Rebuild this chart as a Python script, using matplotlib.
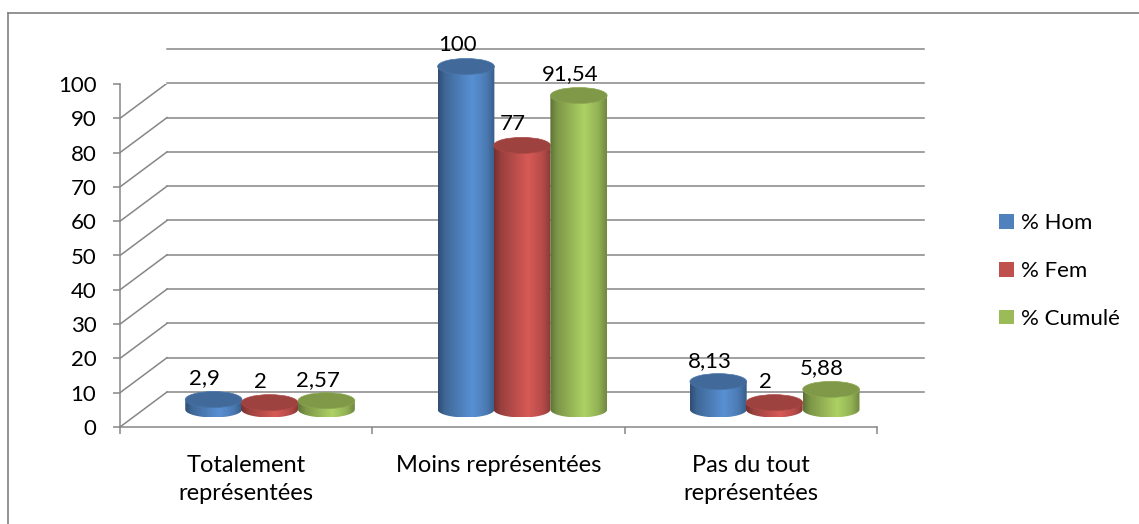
import numpy as np
import matplotlib
matplotlib.use("Agg")
import matplotlib.pyplot as plt
from matplotlib.patches import Ellipse, Patch, Polygon
from matplotlib.lines import Line2D
from matplotlib.transforms import offset_copy
from matplotlib.colors import to_rgb

plt.rcParams['font.family'] = ['Lato', 'DejaVu Sans']

categories = ["Totalement\nreprésentées", "Moins représentées", "Pas du tout\nreprésentées"]
series_names = ["% Hom", "% Fem", "% Cumulé"]
hom = [2.9, 100, 8.13]
fem = [2, 77, 2]
cumul = [2.57, 91.54, 5.88]
series = [hom, fem, cumul]
colors = ["#4F81BD", "#C0504D", "#9BBB59"]
yticks = list(range(0, 101, 10))

W, H = 1139, 524
fig = plt.figure(figsize=(W / 100, H / 100), dpi=100)
ax = fig.add_axes([120 / W, (H - 427) / H, 757 / W, 343 / H])
ax.patch.set_alpha(0)

# depth of the 3d box in pixels
DX, DY = 47, 35
back = offset_copy(ax.transData, fig=fig, x=DX, y=DY, units='dots')
mid_f = 0.5
mid = offset_copy(ax.transData, fig=fig, x=DX * mid_f, y=DY * mid_f, units='dots')

grid_c = "#868686"
lw = 1.1
fs = 16

# cylinders
px_per_unit = 343 / 100
eh = 8 / px_per_unit          # half height of the ellipse in data units
bw = 0.225
offs = [-0.222, 0, 0.225]
grad_u = np.linspace(0, 1, 200)
shade = np.interp(grad_u, [0, 0.12, 0.6, 0.85, 1], [0.6, 0.8, 1.12, 0.95, 0.72])

for i, (vals, col) in enumerate(zip(series, colors)):
    base = np.array(to_rgb(col))
    top_c = np.clip(base * 0.82, 0, 1)
    img = np.clip(shade[None, :, None] * base[None, None, :], 0, 1)
    for j, v in enumerate(vals):
        c = j + offs[i]
        t = np.linspace(0, np.pi, 60)
        bottom = np.column_stack([c - bw / 2 * np.cos(t), -eh * np.sin(t)])
        outline = np.vstack([bottom, [[c + bw / 2, v], [c - bw / 2, v]]])
        body = Polygon(outline, closed=True, transform=mid, facecolor='none', edgecolor='none')
        im = ax.imshow(img, extent=(c - bw / 2, c + bw / 2, -eh, v), aspect='auto',
                       transform=mid, interpolation='bilinear', zorder=3 + i)
        im.set_clip_path(body)
        im.set_clip_box(fig.bbox)
        ax.add_patch(Ellipse((c, v), bw, 2 * eh, facecolor=top_c, edgecolor=np.clip(base * 0.9, 0, 1),
                             lw=0.5, transform=mid, clip_on=False, zorder=3 + i))
        lab = f"{v:g}".replace('.', ',')
        ax.text(c - 0.035, v, lab, ha='center', va='center', fontsize=fs,
                transform=offset_copy(ax.transData, fig=fig, x=DX * mid_f, y=DY * mid_f + 21, units='dots'),
                zorder=10)

ax.set_xlim(-0.5, 2.5)
ax.set_ylim(0, 100)

# back wall grid + side diagonals
for v in yticks:
    ax.plot([-0.5, 2.5], [v, v], color=grid_c, lw=lw, transform=back, clip_on=False, zorder=1)
    x0, y0 = ax.transData.transform((-0.5, v))
    ax.add_line(Line2D([x0, x0 + DX], [y0, y0 + DY], color=grid_c, lw=lw, transform=None, zorder=1))
# floor right edge
x1, y1 = ax.transData.transform((2.5, 0))
ax.add_line(Line2D([x1, x1 + DX], [y1, y1 + DY], color=grid_c, lw=lw, transform=None, zorder=1))

# axes / ticks
for s in ["top", "right"]:
    ax.spines[s].set_visible(False)
for s in ["left", "bottom"]:
    ax.spines[s].set_color(grid_c)
    ax.spines[s].set_linewidth(lw)
ax.set_yticks(yticks)
ax.set_yticklabels([str(t) for t in yticks])
ax.tick_params(axis='y', length=5, width=lw, color=grid_c, pad=12, labelsize=fs)
ax.set_xticks([0, 1, 2])
ax.set_xticklabels(categories, linespacing=1.45)
ax.set_xticks([-0.5, 0.5, 1.5, 2.5], minor=True)
ax.tick_params(axis='x', which='major', length=0, pad=20, labelsize=fs + 1)
ax.tick_params(axis='x', which='minor', length=5, width=lw, color=grid_c)

# legend
handles = [Patch(facecolor=c, edgecolor='none') for c in colors]
fig.legend(handles, series_names, loc='center left', bbox_to_anchor=(988 / W, 1 - 271 / H),
           frameon=False, fontsize=fs, handlelength=0.65, handleheight=0.65,
           handletextpad=0.35, labelspacing=1.25, borderpad=0)

# chart border (top and left visible)
fig.add_artist(Line2D([8 / W, 1], [1 - 13 / H, 1 - 13 / H], color="#808080", lw=1.2, transform=fig.transFigure))
fig.add_artist(Line2D([8 / W, 8 / W], [0, 1 - 13 / H], color="#808080", lw=1.2, transform=fig.transFigure))

fig.savefig("out.png", dpi=100)
